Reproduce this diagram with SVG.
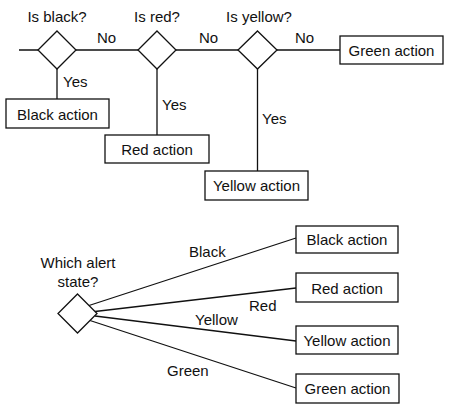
<svg xmlns="http://www.w3.org/2000/svg" width="452" height="411" viewBox="0 0 452 411">
<style>
.n{fill:#fff;stroke:#111;stroke-width:1.3}
.c{fill:none;stroke:#111;stroke-width:1.3}
text{font-family:"Liberation Sans",Arial,sans-serif;font-size:15px;fill:#111}
.m{text-anchor:middle}
</style>
<rect width="452" height="411" fill="#fff"/>
<g id="connectors">
<path class="c" d="M19 50H38M76 50H138M176 50H238M277 50H340"/>
<path class="c" d="M57 69V99M157 69V135M257.5 69V171"/>
<path class="c" d="M89 305.5L296 238M95 311.5L296 288M95 316L296 341M90 320.5L296 388"/>
</g>
<g id="labels">
<text x="57" y="22" class="m">Is black?</text>
<text x="157" y="22" class="m">Is red?</text>
<text x="259" y="22" class="m">Is yellow?</text>
<text x="97" y="43">No</text>
<text x="199" y="43">No</text>
<text x="295" y="43">No</text>
<text x="63" y="87">Yes</text>
<text x="162" y="110">Yes</text>
<text x="262" y="124">Yes</text>
<text x="189" y="257">Black</text>
<text x="249" y="311">Red</text>
<text x="195" y="325">Yellow</text>
<text x="167" y="376">Green</text>
</g>
<g id="is-black"><path class="n" d="M57 31L76 50L57 69L38 50Z"/></g>
<g id="is-red"><path class="n" d="M157 31L176 50L157 69L138 50Z"/></g>
<g id="is-yellow"><path class="n" d="M257.5 31L277 50L257.5 69L238 50Z"/></g>
<g id="green-action-1"><rect class="n" x="340" y="36" width="103" height="28"/><text x="391.5" y="56" class="m">Green action</text></g>
<g id="black-action-1"><rect class="n" x="6" y="99" width="103" height="29"/><text x="57.5" y="120" class="m">Black action</text></g>
<g id="red-action-1"><rect class="n" x="105" y="135" width="104" height="28"/><text x="157" y="155" class="m">Red action</text></g>
<g id="yellow-action-1"><rect class="n" x="205" y="171" width="103" height="29"/><text x="256.5" y="191" class="m">Yellow action</text></g>
<g id="which-alert"><text x="78" y="268" class="m">Which alert</text><text x="78" y="287" class="m">state?</text><path class="n" d="M77.5 294L97 313.5L77.5 333L58 313.5Z"/></g>
<g id="black-action-2"><rect class="n" x="296" y="226" width="102" height="27"/><text x="347" y="245" class="m">Black action</text></g>
<g id="red-action-2"><rect class="n" x="296" y="273" width="102" height="29"/><text x="347" y="294" class="m">Red action</text></g>
<g id="yellow-action-2"><rect class="n" x="296" y="326" width="102" height="28"/><text x="347" y="346" class="m">Yellow action</text></g>
<g id="green-action-2"><rect class="n" x="296" y="374" width="103" height="29"/><text x="347.5" y="394" class="m">Green action</text></g>
</svg>
